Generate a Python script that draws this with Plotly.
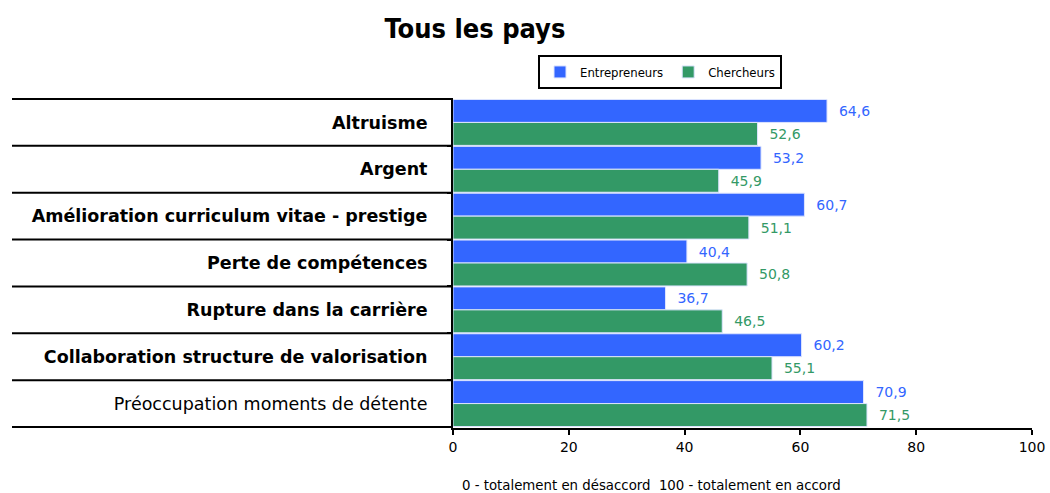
import plotly.graph_objects as go

categories = [
    "Altruisme",
    "Argent",
    "Amélioration curriculum vitae - prestige",
    "Perte de compétences",
    "Rupture dans la carrière",
    "Collaboration structure de valorisation",
    "Préoccupation moments de détente",
]
bold_labels = [True, True, True, True, True, True, False]
entrepreneurs = [64.6, 53.2, 60.7, 40.4, 36.7, 60.2, 70.9]
chercheurs = [52.6, 45.9, 51.1, 50.8, 46.5, 55.1, 71.5]
x_ticks = [0, 20, 40, 60, 80, 100]

BLUE = "#3366FF"
GREEN = "#339966"
FONT = "DejaVu Sans"
COND = "DejaVu Sans Condensed"

W, H = 1050, 493
L, R, T, B = 453, 18, 98, 65
plot_w = W - L - R
plot_h = H - T - B


def px_x(x):
    return (x - L) / plot_w


def px_y(y):
    return (H - B - y) / plot_h


fig = go.Figure()
for name, vals, color in [("Entrepreneurs", entrepreneurs, BLUE), ("Chercheurs", chercheurs, GREEN)]:
    fig.add_trace(go.Bar(
        name=name, y=categories, x=vals, orientation="h",
        marker=dict(color=color, line=dict(color="#dde4ff", width=1)),
        texttemplate="\u00a0\u00a0%{x:.1f}", textposition="outside",
        textfont=dict(family=FONT, size=14, color=color),
        cliponaxis=False,
    ))

ticktext = [f"<b>{c}</b>" if b else c for c, b in zip(categories, bold_labels)]

# horizontal separators across label area
shapes = []
for i in range(len(categories) + 1):
    shapes.append(dict(type="line", xref="paper", yref="y",
                       x0=px_x(12), x1=0, y0=i - 0.5, y1=i - 0.5,
                       line=dict(color="black", width=2)))

fig.update_layout(
    width=W, height=H,
    margin=dict(l=L, r=R, t=T, b=B, autoexpand=False),
    paper_bgcolor="white", plot_bgcolor="white",
    font=dict(family=FONT, size=13, color="black"),
    separators=", ",
    barmode="group", bargap=0.02, bargroupgap=0,
    title=dict(text="<b>Tous les pays</b>", x=475 / W, xanchor="center",
               y=1 - 29 / H, yanchor="middle",
               font=dict(family=COND, size=27, color="black")),
    legend=dict(orientation="h", x=px_x(538), y=px_y(55), xanchor="left", yanchor="top",
                bgcolor="white", bordercolor="black", borderwidth=2,
                font=dict(family=COND, size=13),
                itemwidth=30, traceorder="normal", tracegroupgap=0),
    shapes=shapes,
    showlegend=True,
)
fig.update_yaxes(
    autorange="reversed", tickmode="array", tickvals=categories, ticktext=ticktext,
    tickson="boundaries", ticks="outside", ticklen=4, tickwidth=2, tickcolor="black",
    showline=True, linecolor="black", linewidth=2, showgrid=False,
    tickfont=dict(family=FONT, size=17.5, color="black"), ticklabelstandoff=20,
)
fig.update_xaxes(
    range=[0, 100], tickvals=x_ticks, ticks="outside", ticklen=5, tickwidth=2, tickcolor="black",
    showline=True, linecolor="black", linewidth=2, showgrid=False, zeroline=False,
    tickfont=dict(family=FONT, size=14, color="black"),
)
fig.add_annotation(text="0 - totalement en désaccord  100 - totalement en accord",
                   xref="paper", yref="paper", x=px_x(651), y=px_y(484),
                   xanchor="center", yanchor="middle", showarrow=False,
                   font=dict(family=COND, size=14.8, color="black"))

# drop the default body margin so the figure sits at the page corner
fig.write_html("out.html", config={"displayModeBar": False},
               post_script="document.body.style.margin = '0';")
